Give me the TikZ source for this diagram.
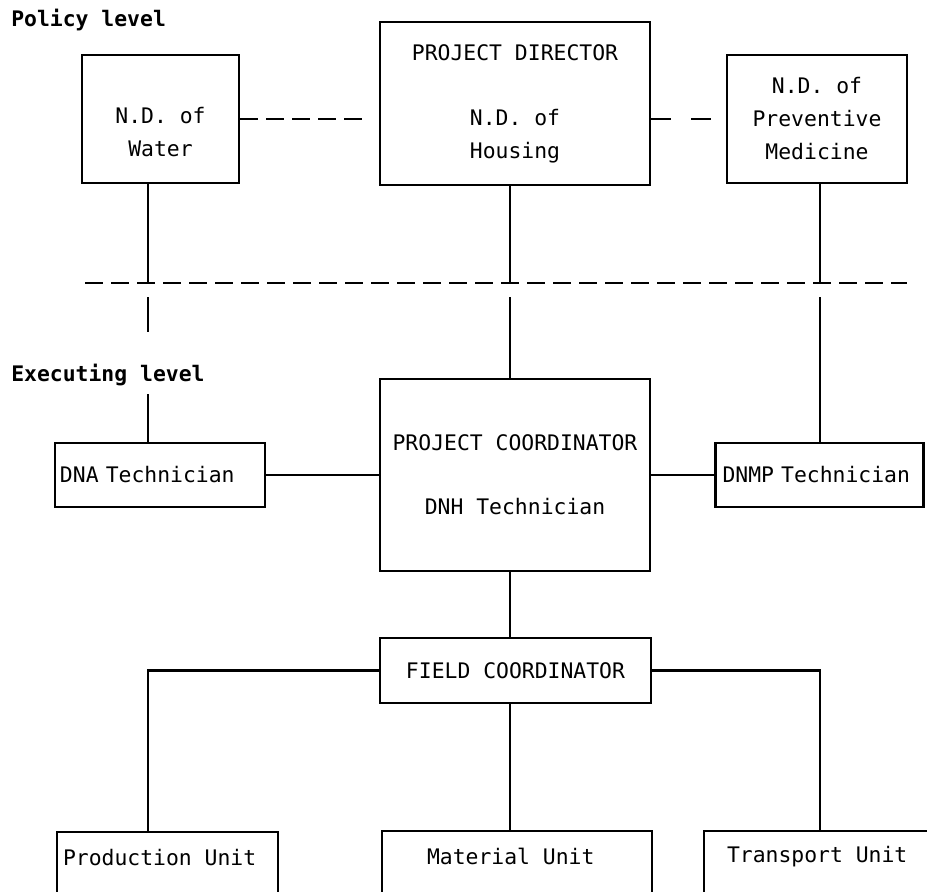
\documentclass[tikz,border=0pt]{standalone}
\usepackage{fontspec}
\setmonofont{DejaVu Sans Mono}
\begin{document}
\begin{tikzpicture}[x=0.5pt,y=-0.5pt,line width=1.3pt,
  font=\ttfamily\fontsize{10.7}{16.5}\selectfont,
  box/.style={draw,inner sep=0pt,align=center},
  txt/.style={anchor=west,inner sep=0pt},
  lvl/.style={font=\ttfamily\bfseries\fontsize{10.7}{16.5}\selectfont,anchor=west,inner sep=0pt},
  dashline/.style={dash pattern=on 9pt off 4pt},
  gapline/.style={dash pattern=on 10pt off 10pt}]
\useasboundingbox (0,0) rectangle (927,891);
\clip (0,0) rectangle (927,891);
\node[lvl] (policy) at (10,20) {Policy level};
\node[lvl] (exec) at (10,375) {Executing level};
\node[box,minimum width=78.5pt,minimum height=64pt] (water) at (160.5,119) {};
\node[align=center,inner sep=0pt] (watertxt) at ([yshift=-6.5pt]water.center) {N.D. of\\Water};
\node[box,minimum width=135pt,minimum height=81.5pt] (director) at (515,103.5) {PROJECT DIRECTOR\\[16pt]N.D. of\\Housing};
\node[box,minimum width=90pt,minimum height=64pt] (prevent) at (817,119) {N.D. of\\Preventive\\Medicine};
\node[box,minimum width=135pt,minimum height=96pt] (coord) at (515,475) {PROJECT COORDINATOR\\[15.5pt]DNH Technician};
\node[box,align=left,text width=100pt,inner xsep=2.5pt,minimum height=32pt] (dna) at (160,475) {DNA Technician};
\node[box,align=left,text width=97pt,inner xsep=3.5pt,minimum height=32pt] (dnmp) at (819.5,475) {DNMP Technician};
\node[box,minimum width=135.5pt,minimum height=32.5pt] (field) at (515.5,670.5) {FIELD COORDINATOR};
\node[box,minimum width=110.5pt,minimum height=60pt] (prod) at (167.5,892) {};
\node[box,minimum width=135pt,minimum height=60pt] (mat) at (517,891) {};
\node[box,minimum width=135pt,minimum height=60pt] (trans) at (839,891) {};
\node[txt] (prodtxt) at ([xshift=3pt,yshift=-13.5pt]prod.north west) {Production Unit};
\node[txt] (mattxt) at ([xshift=22.5pt,yshift=-13.5pt]mat.north west) {Material Unit};
\node[txt] (transtxt) at ([xshift=11.5pt,yshift=-13.5pt]trans.north west) {Transport Unit};
\coordinate (dl) at (85,283);
\coordinate (dr) at (907,283);
\coordinate (ca) at (148,283);
\coordinate (cb) at (510,283);
\coordinate (cc) at (820,283);
\draw[dashline] (dl) -- (dr);
\draw[dashline] (water.east) -- ([xshift=-8.5pt]water.east -| director.west);
\draw[gapline] (prevent.west -| director.east) -- ([xshift=-7.5pt]prevent.west);
\draw (water.south -| ca) -- (ca);
\draw (director.south -| cb) -- (cb);
\draw (prevent.south -| cc) -- (cc);
\draw ([yshift=-7pt]ca) -- ++(0,-17.5pt);
\draw (dna.north -| ca) -- ++(0,24pt);
\draw ([yshift=-7pt]cb) -- (coord.north -| cb);
\draw ([yshift=-7pt]cc) -- (dnmp.north -| cc);
\draw (dna.east) -- (coord.west);
\draw (coord.east) -- (dnmp.west);
\draw (coord.south -| cb) -- (field.north -| cb);
\draw (field.west) -| (prod.north -| ca);
\draw (field.south -| cb) -- (mat.north -| cb);
\draw (field.east) -| (trans.north -| cc);
\end{tikzpicture}
\end{document}
